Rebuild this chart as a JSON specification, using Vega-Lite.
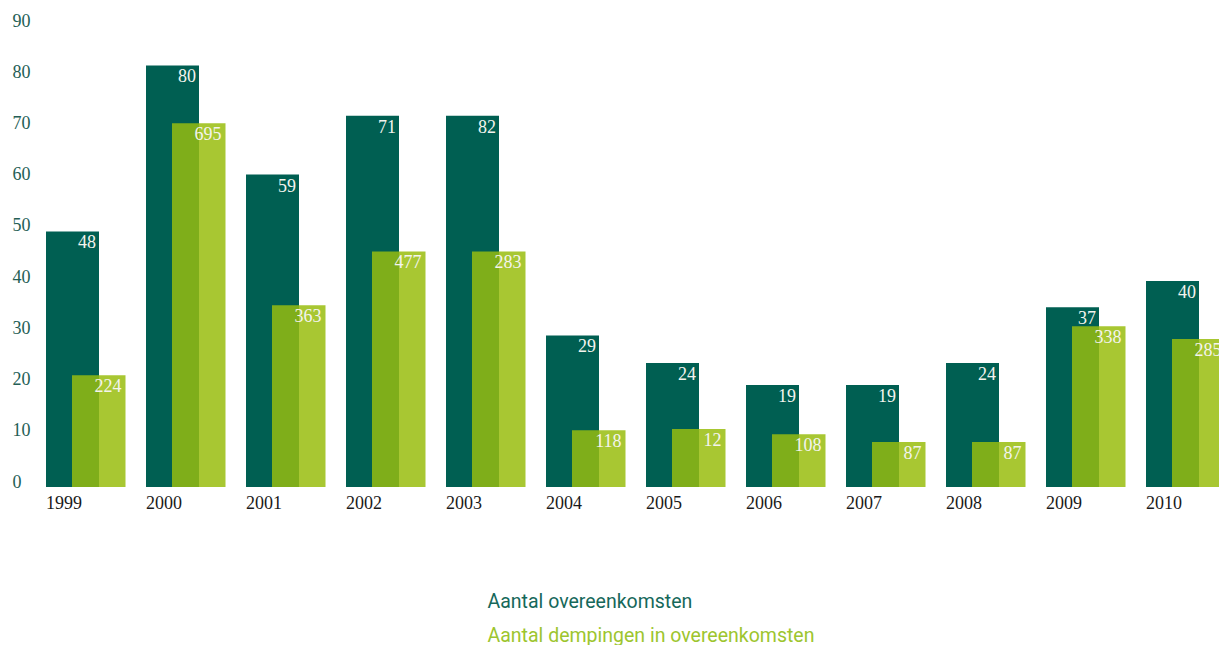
{
  "$schema": "https://vega.github.io/schema/vega-lite/v6.json",
  "width": 1173,
  "height": 461,
  "autosize": {"type": "none"},
  "padding": {"left": 46, "top": 26, "right": 0, "bottom": 158},
  "background": "white",
  "config": {"view": {"stroke": null}},
  "data": {
    "values": [
      {"year": "1999", "series": "Aantal overeenkomsten", "value": 49.9, "label": "48"},
      {"year": "2000", "series": "Aantal overeenkomsten", "value": 82.3, "label": "80"},
      {"year": "2001", "series": "Aantal overeenkomsten", "value": 61.0, "label": "59"},
      {"year": "2002", "series": "Aantal overeenkomsten", "value": 72.5, "label": "71"},
      {"year": "2003", "series": "Aantal overeenkomsten", "value": 72.5, "label": "82"},
      {"year": "2004", "series": "Aantal overeenkomsten", "value": 29.6, "label": "29"},
      {"year": "2005", "series": "Aantal overeenkomsten", "value": 24.2, "label": "24"},
      {"year": "2006", "series": "Aantal overeenkomsten", "value": 19.9, "label": "19"},
      {"year": "2007", "series": "Aantal overeenkomsten", "value": 19.9, "label": "19"},
      {"year": "2008", "series": "Aantal overeenkomsten", "value": 24.2, "label": "24"},
      {"year": "2009", "series": "Aantal overeenkomsten", "value": 35.1, "label": "37"},
      {"year": "2010", "series": "Aantal overeenkomsten", "value": 40.2, "label": "40"},
      {"year": "1999", "series": "Aantal dempingen in overeenkomsten", "value": 21.8, "label": "224"},
      {"year": "2000", "series": "Aantal dempingen in overeenkomsten", "value": 71.0, "label": "695"},
      {"year": "2001", "series": "Aantal dempingen in overeenkomsten", "value": 35.5, "label": "363"},
      {"year": "2002", "series": "Aantal dempingen in overeenkomsten", "value": 46.0, "label": "477"},
      {"year": "2003", "series": "Aantal dempingen in overeenkomsten", "value": 46.0, "label": "283"},
      {"year": "2004", "series": "Aantal dempingen in overeenkomsten", "value": 11.1, "label": "118"},
      {"year": "2005", "series": "Aantal dempingen in overeenkomsten", "value": 11.3, "label": "12"},
      {"year": "2006", "series": "Aantal dempingen in overeenkomsten", "value": 10.3, "label": "108"},
      {"year": "2007", "series": "Aantal dempingen in overeenkomsten", "value": 8.8, "label": "87"},
      {"year": "2008", "series": "Aantal dempingen in overeenkomsten", "value": 8.8, "label": "87"},
      {"year": "2009", "series": "Aantal dempingen in overeenkomsten", "value": 31.4, "label": "338"},
      {"year": "2010", "series": "Aantal dempingen in overeenkomsten", "value": 28.9, "label": "285"}
    ]
  },
  "encoding": {
    "x": {
      "field": "year",
      "type": "ordinal",
      "scale": {"range": [0, 1200], "paddingInner": 0, "paddingOuter": 0},
      "axis": {
        "title": null,
        "domain": false,
        "ticks": false,
        "tickSize": 0,
        "labelAlign": "left",
        "labelBaseline": "alphabetic",
        "labelPadding": 21,
        "labelOffset": -50,
        "labelFont": "Liberation Serif",
        "labelFontSize": 18,
        "labelColor": "#1a1a1a",
        "labelAngle": 0
      }
    },
    "y": {
      "field": "value",
      "type": "quantitative",
      "scale": {"domain": [0, 90], "nice": false},
      "axis": {
        "title": null,
        "values": [0, 10, 20, 30, 40, 50, 60, 70, 80, 90],
        "domain": false,
        "ticks": false,
        "tickSize": 0,
        "grid": false,
        "labelAlign": "left",
        "labelBaseline": "alphabetic",
        "labelPadding": 34,
        "labelFont": "Liberation Serif",
        "labelFontSize": 18,
        "labelColor": "#245e55"
      }
    }
  },
  "layer": [
    {
      "transform": [{"filter": "datum.series === 'Aantal overeenkomsten'"}],
      "mark": {"type": "bar", "width": {"band": 0.53}, "xOffset": -23.5},
      "encoding": {
        "color": {
          "field": "series",
          "type": "nominal",
          "scale": {
            "domain": ["Aantal overeenkomsten", "Aantal dempingen in overeenkomsten"],
            "range": ["#005f52", "#a8c732"]
          },
          "legend": {
            "title": null,
            "orient": "none",
            "direction": "vertical",
            "legendX": 422,
            "legendY": 566,
            "padding": 0,
            "symbolSize": 0,
            "symbolOpacity": 0,
            "symbolStrokeWidth": 0,
            "labelOffset": 0,
            "labelFont": "Roboto",
            "labelFontSize": 19.5,
            "labelLimit": 0,
            "rowPadding": 13.5,
            "encode": {
              "labels": {
                "update": {
                  "fill": {"signal": "datum.value === 'Aantal overeenkomsten' ? '#16685a' : '#9dc52e'"}
                }
              }
            }
          }
        }
      }
    },
    {
      "transform": [{"filter": "datum.series === 'Aantal dempingen in overeenkomsten'"}],
      "mark": {"type": "bar", "width": {"band": 0.265}, "xOffset": 16.25},
      "encoding": {
        "color": {"field": "series", "type": "nominal"}
      }
    },
    {
      "transform": [{"filter": "datum.series === 'Aantal dempingen in overeenkomsten'"}],
      "mark": {"type": "bar", "width": {"band": 0.27}, "xOffset": -10.5, "color": "#7fae1a"}
    },
    {
      "transform": [{"filter": "datum.series === 'Aantal overeenkomsten'"}],
      "mark": {"type": "text", "align": "right", "baseline": "alphabetic", "dy": 17, "dx": 0, "font": "Liberation Serif", "fontSize": 18, "color": "#f4f4ee"},
      "encoding": {"text": {"field": "label"}}
    },
    {
      "transform": [{"filter": "datum.series === 'Aantal dempingen in overeenkomsten'"}],
      "mark": {"type": "text", "align": "right", "baseline": "alphabetic", "dy": 17, "dx": 25.5, "font": "Liberation Serif", "fontSize": 18, "color": "#f4f4ee"},
      "encoding": {"text": {"field": "label"}}
    }
  ]
}
